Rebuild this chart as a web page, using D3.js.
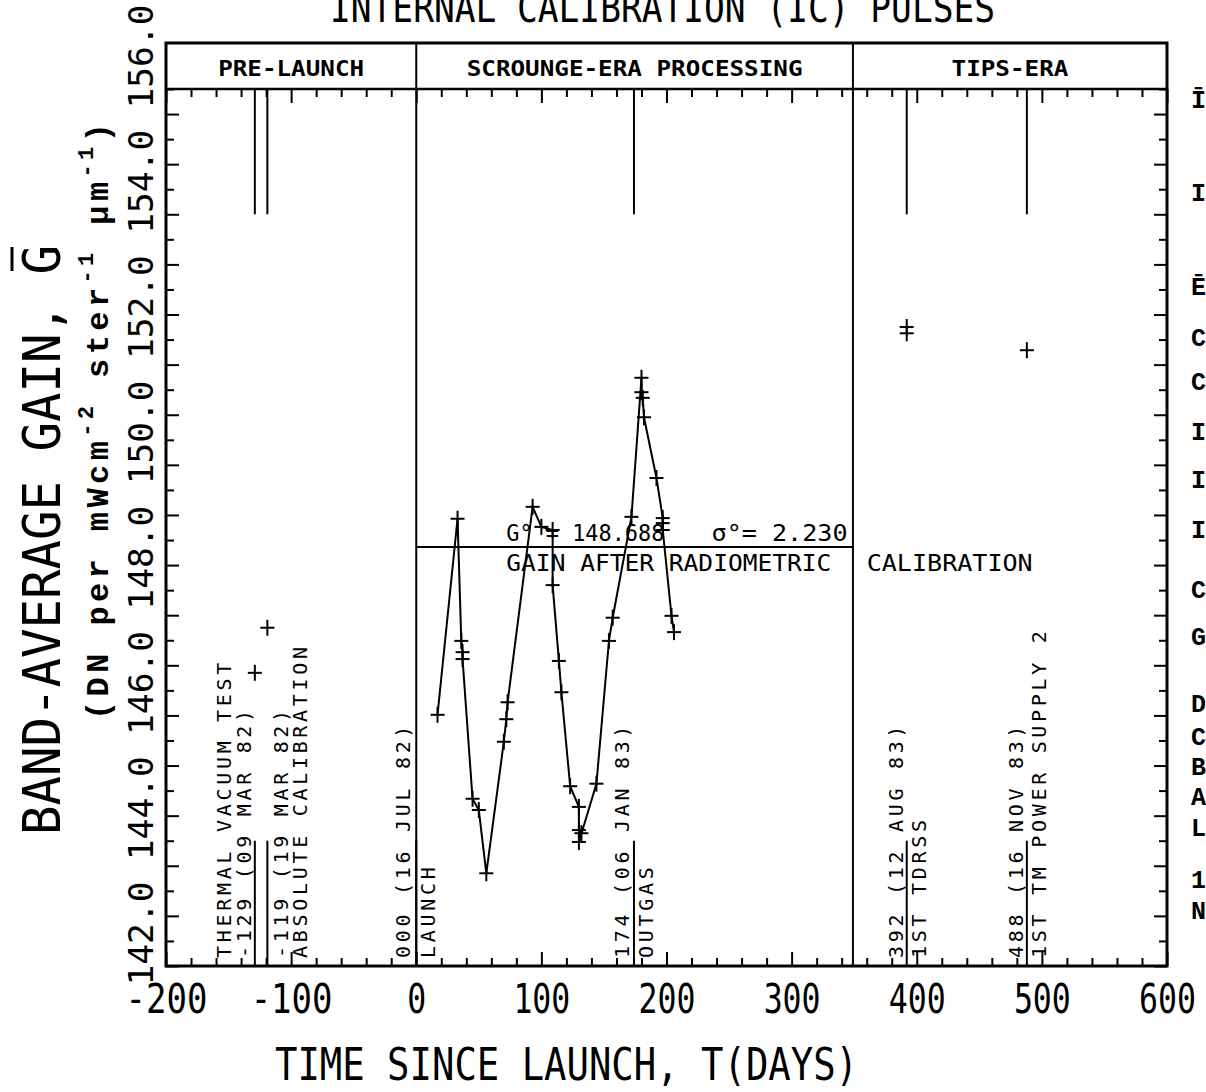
<!DOCTYPE html>
<html>
<head>
<meta charset="utf-8">
<script src="https://cdn.jsdelivr.net/npm/d3@7"></script>
<style>
  body { margin: 0; background: #fff; }
  svg { display: block; }
  text { font-family: "DejaVu Sans Mono", monospace; fill: #000; }
</style>
</head>
<body>
<script>
// ---- data ----
const eraNames = ["PRE-LAUNCH", "SCROUNGE-ERA PROCESSING", "TIPS-ERA"];
const eraEdges = [-200, 0, 349, 600];

const eventDays  = [-129, -119, 0, 174, 392, 488];
const eventDates = ["-129 (09 MAR 82)", "-119 (19 MAR 82)", "000 (16 JUL 82)",
                    "174 (06 JAN 83)", "392 (12 AUG 83)", "488 (16 NOV 83)"];
const eventNames = ["THERMAL VACUUM TEST", "ABSOLUTE CALIBRATION", "LAUNCH",
                    "OUTGAS", "1ST TDRSS", "1ST TM POWER SUPPLY 2"];
const icPulseDays = [-129, -119, 174, 392, 488];

const preDays = [-129, -119];
const preGain = [146.68, 147.40];

const scrDays = [17, 33, 36, 37, 37, 45, 50, 56, 70, 72, 73, 93, 100, 109, 109, 114, 116, 123,
                 130, 130, 132, 130, 144, 154, 157, 172, 180, 180, 181, 182, 192, 197, 197, 197, 204, 206];
const scrGain = [146.01, 149.14, 147.19, 147.01, 146.90, 144.67, 144.49, 143.48, 145.58, 145.94,
                 146.21, 149.33, 149.01, 148.96, 148.08, 146.87, 146.37, 144.87, 144.54, 144.17,
                 144.12, 143.98, 144.91, 147.19, 147.56, 149.17, 151.39, 151.16, 151.07, 150.76,
                 149.79, 149.15, 149.07, 148.96, 147.59, 147.33];

const tipsDays = [392, 392, 488];
const tipsGain = [152.20, 152.10, 151.83];

const gainAfterCal = 148.688;
const sigmaAfterCal = 2.230;

const xLabelTicks = [-200, -100, 0, 100, 200, 300, 400, 500, 600];
const yLabelTicks = [142, 144, 146, 148, 150, 152, 154, 156];

// letters of the next column, cut by the page edge
const sideLetters = ["\u012A", "I", "\u0112", "C", "C", "I", "I", "I", "C", "G", "D", "C", "B", "A", "L", "1", "N"];
const sideLetterY = [100, 193, 287, 338, 382, 432, 480, 530, 590, 637, 704, 737, 767, 797, 828, 880, 911];

// ---- layout ----
const W = 1206, H = 1092;
const headerTop = 43;

const x = d3.scaleLinear().domain([-200, 600]).range([166, 1167]);
const y = d3.scaleLinear().domain([142, 156]).range([966, 89]);

const svg = d3.select("body").append("svg")
  .attr("width", W)
  .attr("height", H);

// title (top is clipped by page edge, as in the scan)
svg.append("text")
  .attr("x", 330).attr("y", 22)
  .attr("font-size", 40)
  .attr("textLength", 665)
  .attr("lengthAdjust", "spacingAndGlyphs")
  .text("INTERNAL CALIBRATION (IC) PULSES");

// ticks, all pointing inward
const xTickVals = d3.range(-200, 601, 20);
const yTickVals = d3.range(0, 36).map(i => +(142 + i * 0.4).toFixed(1));
const xMajor = d => d % 100 === 0;
const yMajor = d => Math.round((d - 142) / 0.4) % 2 === 0;

svg.append("g")
  .attr("transform", `translate(0,${y(142)})`)
  .call(d3.axisBottom(x).tickValues(xTickVals).tickFormat(""))
  .call(g => g.select(".domain").remove())
  .call(g => g.selectAll(".tick line").attr("y2", d => xMajor(d) ? -14 : -8).attr("stroke-width", 2));

svg.append("g")
  .attr("transform", `translate(0,${y(156)})`)
  .call(d3.axisTop(x).tickValues(xTickVals).tickFormat(""))
  .call(g => g.select(".domain").remove())
  .call(g => g.selectAll(".tick line").attr("y2", d => xMajor(d) ? 14 : 8).attr("stroke-width", 2));

svg.append("g")
  .attr("transform", `translate(${x(-200)},0)`)
  .call(d3.axisLeft(y).tickValues(yTickVals).tickFormat(""))
  .call(g => g.select(".domain").remove())
  .call(g => g.selectAll(".tick line").attr("x2", d => yMajor(d) ? 13 : 8).attr("stroke-width", 2));

svg.append("g")
  .attr("transform", `translate(${x(600)},0)`)
  .call(d3.axisRight(y).tickValues(yTickVals).tickFormat(""))
  .call(g => g.select(".domain").remove())
  .call(g => g.selectAll(".tick line").attr("x2", d => yMajor(d) ? -13 : -8).attr("stroke-width", 2));

// x tick labels
svg.append("g")
  .attr("transform", `translate(0,${y(142)})`)
  .call(d3.axisBottom(x).tickValues(xLabelTicks).tickSize(0).tickFormat(d => String(d)))
  .call(g => g.select(".domain").remove())
  .call(g => g.selectAll(".tick text")
    .attr("y", 47).attr("dy", null)
    .attr("font-size", 41)
    .attr("font-family", "DejaVu Sans Mono, monospace")
    .attr("textLength", d => d < 0 ? 82 : String(d).length * 19)
    .attr("lengthAdjust", "spacingAndGlyphs"));

// y tick labels, rotated
svg.append("g")
  .attr("transform", `translate(${x(-200)},0)`)
  .call(d3.axisLeft(y).tickValues(yLabelTicks).tickSize(0).tickFormat(d3.format(".1f")))
  .call(g => g.select(".domain").remove())
  .call(g => g.selectAll(".tick text")
    .attr("x", null).attr("dy", null)
    .attr("text-anchor", "start")
    .attr("transform", "translate(-13,19) rotate(-90)")
    .attr("font-size", 34)
    .attr("font-family", "DejaVu Sans Mono, monospace")
    .attr("textLength", 104)
    .attr("lengthAdjust", "spacingAndGlyphs"));

// frame, header band and era dividers
svg.append("rect")
  .attr("x", x(-200)).attr("y", headerTop)
  .attr("width", x(600) - x(-200)).attr("height", y(142) - headerTop)
  .attr("fill", "none").attr("stroke", "#000").attr("stroke-width", 3);

svg.append("line")
  .attr("x1", x(-200)).attr("x2", x(600))
  .attr("y1", y(156)).attr("y2", y(156))
  .attr("stroke", "#000").attr("stroke-width", 2.5);

svg.selectAll(".era-div")
  .data(eraEdges.slice(1, -1))
  .enter().append("line")
  .attr("class", "era-div")
  .attr("x1", d => x(d)).attr("x2", d => x(d))
  .attr("y1", headerTop).attr("y2", y(142))
  .attr("stroke", "#000").attr("stroke-width", 2);

svg.selectAll(".era-name")
  .data(eraNames)
  .enter().append("text")
  .attr("class", "era-name")
  .attr("x", (d, i) => (x(eraEdges[i]) + x(eraEdges[i + 1])) / 2)
  .attr("y", 76)
  .attr("text-anchor", "middle")
  .attr("font-size", 21)
  .attr("font-weight", "bold")
  .attr("textLength", d => d.length * 14.6)
  .attr("lengthAdjust", "spacingAndGlyphs")
  .text(d => d);

// IC pulse markers hanging from the header
svg.selectAll(".pulse")
  .data(icPulseDays)
  .enter().append("line")
  .attr("class", "pulse")
  .attr("x1", d => x(d)).attr("x2", d => x(d))
  .attr("y1", y(156)).attr("y2", y(154))
  .attr("stroke", "#000").attr("stroke-width", 2);

// event lines and vertical labels
const dateOffset = [-4, 21, -6, -5, -4, -4];
const nameOffset = [-24, 40, 19, 19, 19, 19];

svg.selectAll(".event-line")
  .data(eventDays)
  .enter().append("line")
  .attr("class", "event-line")
  .attr("x1", d => x(d)).attr("x2", d => x(d))
  .attr("y1", y(142)).attr("y2", y(144))
  .attr("stroke", "#000").attr("stroke-width", 2);

function vLabel(px, txt) {
  svg.append("text")
    .attr("transform", `translate(${px},${y(142) - 8}) rotate(-90)`)
    .attr("font-size", 20)
    .attr("letter-spacing", 3.7)
    .text(txt);
}
eventDays.forEach((d, i) => {
  vLabel(x(d) + dateOffset[i], eventDates[i]);
  vLabel(x(d) + nameOffset[i], eventNames[i]);
});

// gain after radiometric calibration
svg.append("line")
  .attr("x1", x(0)).attr("x2", x(349))
  .attr("y1", y(gainAfterCal)).attr("y2", y(gainAfterCal))
  .attr("stroke", "#000").attr("stroke-width", 2);

const annot = (px, py, txt, len) => svg.append("text")
  .attr("x", px).attr("y", py)
  .attr("font-size", 23)
  .attr("textLength", len)
  .attr("lengthAdjust", "spacingAndGlyphs")
  .text(txt);
annot(x(72), y(gainAfterCal) - 6, "G\u00B0 = " + gainAfterCal.toFixed(3), 158);
annot(x(236), y(gainAfterCal) - 6, "\u03C3\u00B0= " + sigmaAfterCal.toFixed(3), 136);
annot(x(72), y(gainAfterCal) + 24, "GAIN AFTER RADIOMETRIC", 325);
annot(x(360), y(gainAfterCal) + 24, "CALIBRATION", 166);

// scrounge-era trace
const line = d3.line()
  .x(d => x(d[0]))
  .y(d => y(d[1]));
const scrPts = scrDays.map((d, i) => [d, scrGain[i]]);
svg.append("path")
  .datum(scrPts)
  .attr("d", line)
  .attr("fill", "none")
  .attr("stroke", "#000")
  .attr("stroke-width", 2);

// "+" markers
const allPts = scrPts
  .concat(preDays.map((d, i) => [d, preGain[i]]))
  .concat(tipsDays.map((d, i) => [d, tipsGain[i]]));
const cross = svg.append("g").attr("stroke", "#000").attr("stroke-width", 2);
cross.selectAll(".h").data(allPts).enter().append("line")
  .attr("x1", d => x(d[0]) - 7).attr("x2", d => x(d[0]) + 7)
  .attr("y1", d => y(d[1])).attr("y2", d => y(d[1]));
cross.selectAll(".v").data(allPts).enter().append("line")
  .attr("x1", d => x(d[0])).attr("x2", d => x(d[0]))
  .attr("y1", d => y(d[1]) - 8).attr("y2", d => y(d[1]) + 8);

// y axis title
const yt = svg.append("g").attr("transform", "translate(60,835) rotate(-90)");
yt.append("text")
  .attr("font-size", 52)
  .attr("textLength", 590)
  .attr("lengthAdjust", "spacingAndGlyphs")
  .text("BAND-AVERAGE GAIN, G");
yt.append("line")
  .attr("x1", 564).attr("x2", 588)
  .attr("y1", -48).attr("y2", -48)
  .attr("stroke", "#000").attr("stroke-width", 3);

const ut = svg.append("text")
  .attr("transform", "translate(108,720) rotate(-90)")
  .style("font-family", "'Liberation Mono', 'Courier New', monospace")
  .attr("font-weight", "bold")
  .attr("font-size", 32)
  .attr("letter-spacing", 4.4);
ut.append("tspan").text("(DN per mWcm");
ut.append("tspan").attr("dy", -15).attr("font-size", 22).text("-2");
ut.append("tspan").attr("dy", 15).text(" ster");
ut.append("tspan").attr("dy", -15).attr("font-size", 22).text("-1");
ut.append("tspan").attr("dy", 15).text(" \u00B5m");
ut.append("tspan").attr("dy", -15).attr("font-size", 22).text("-1");
ut.append("tspan").attr("dy", 15).text(")");

// x axis title
svg.append("text")
  .attr("x", 275).attr("y", 1080)
  .attr("font-size", 44)
  .attr("textLength", 583)
  .attr("lengthAdjust", "spacingAndGlyphs")
  .text("TIME SINCE LAUNCH, T(DAYS)");

// right-hand column letters
svg.selectAll(".side")
  .data(sideLetters)
  .enter().append("text")
  .attr("class", "side")
  .attr("x", 1191)
  .attr("y", (d, i) => sideLetterY[i] + 8)
  .style("font-family", "'Liberation Mono', 'Courier New', monospace")
  .attr("font-weight", "bold")
  .attr("font-size", 25)
  .text(d => d);
</script>
</body>
</html>
